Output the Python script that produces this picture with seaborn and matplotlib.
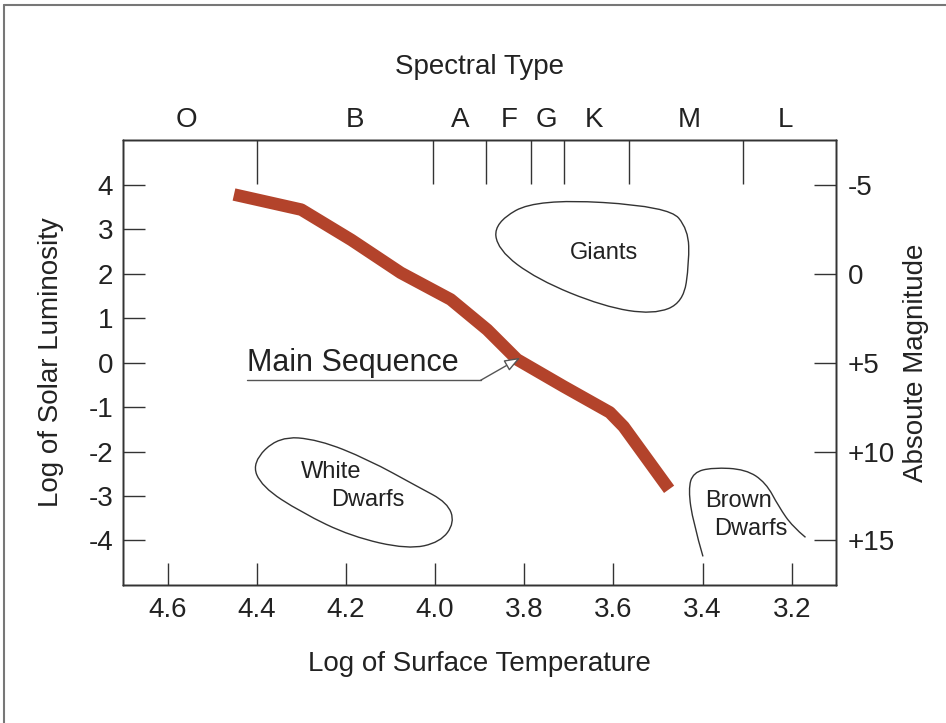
import numpy as np
import pandas as pd
import matplotlib
matplotlib.use("Agg")
import matplotlib.pyplot as plt
from matplotlib.path import Path
from matplotlib.patches import PathPatch
import seaborn as sns

sns.set_theme(style="white")
plt.rcParams['font.family'] = ['Liberation Sans', 'DejaVu Sans']

# ---- data ----
ms_logT = [4.451, 4.30, 4.188, 4.077, 3.965, 3.883, 3.816, 3.711, 3.608, 3.577, 3.475]
ms_logL = [3.78, 3.44, 2.76, 2.02, 1.42, 0.74, 0.07, -0.54, -1.12, -1.44, -2.85]

giants_logT = [3.867, 3.771, 3.475, 3.432, 3.430, 3.443, 3.510, 3.622, 3.771, 3.860]
giants_logL = [3.15, 3.69, 3.51, 2.99, 2.25, 1.35, 1.08, 1.26, 1.87, 2.54]

wd_logT = [4.351, 4.262, 4.150, 4.039, 3.972, 3.956, 3.988, 4.061, 4.188, 4.300, 4.389, 4.411]
wd_logL = [-1.66, -1.73, -2.18, -2.79, -3.15, -3.60, -4.04, -4.20, -3.91, -3.37, -2.79, -2.25]

bd_logT = [3.399, 3.421, 3.432, 3.421, 3.377, 3.303, 3.258, 3.229, 3.198, 3.169]
bd_logL = [-4.36, -3.60, -2.85, -2.47, -2.36, -2.40, -2.70, -3.24, -3.69, -3.93]

temp_ticks = [4.6, 4.4, 4.2, 4.0, 3.8, 3.6, 3.4, 3.2]
lum_ticks = [4, 3, 2, 1, 0, -1, -2, -3, -4]
mag_ticks = [4, 2, 0, -2, -4]
mag_labels = ["-5", "0", "+5", "+10", "+15"]
spec_bounds = [4.40, 4.004, 3.885, 3.784, 3.711, 3.564, 3.309]
spec_centers = [4.558, 4.179, 3.943, 3.834, 3.751, 3.644, 3.430, 3.214]
spec_labels = ["O", "B", "A", "F", "G", "K", "M", "L"]

ink = "#333333"

def smooth_path(xs, ys, closed=True):
    pts = list(zip(xs, ys))
    verts, codes = [], []
    if closed:
        n = len(pts)
        mids = [((pts[i][0] + pts[(i + 1) % n][0]) / 2, (pts[i][1] + pts[(i + 1) % n][1]) / 2) for i in range(n)]
        verts.append(mids[-1]); codes.append(Path.MOVETO)
        for i in range(n):
            verts += [pts[i], mids[i]]
            codes += [Path.CURVE3, Path.CURVE3]
    else:
        verts.append(pts[0]); codes.append(Path.MOVETO)
        for i in range(1, len(pts) - 1):
            mid = ((pts[i][0] + pts[i + 1][0]) / 2, (pts[i][1] + pts[i + 1][1]) / 2)
            if i == len(pts) - 2:
                mid = pts[-1]
            verts += [pts[i], mid]
            codes += [Path.CURVE3, Path.CURVE3]
    return Path(verts, codes)

fig = plt.figure(figsize=(9.46, 7.23), dpi=100)
fig.patch.set_facecolor("white")
ax = fig.add_axes([0.130, 0.191, 0.754, 0.615])

df = pd.DataFrame({"logT": ms_logT, "logL": ms_logL})
sns.lineplot(data=df, x="logT", y="logL", sort=False, ax=ax, color="#b3432b",
             linewidth=9, solid_joinstyle="round", solid_capstyle="butt")

for xs, ys, closed in [(giants_logT, giants_logL, True), (wd_logT, wd_logL, True),
                       (bd_logT, bd_logL, False)]:
    ax.add_patch(PathPatch(smooth_path(xs, ys, closed), facecolor="none",
                           edgecolor=ink, linewidth=1.0))

ax.set_xlim(4.7, 3.1)
ax.set_ylim(-5, 5)

fs = 20
ax.set_xticks(temp_ticks)
ax.set_xticklabels([f"{t:.1f}" for t in temp_ticks])
ax.set_yticks(lum_ticks)
ax.set_yticklabels([str(v) for v in lum_ticks])
ax.tick_params(axis="x", direction="in", length=16, width=1, color=ink, pad=9,
               labelsize=fs, labelcolor="#222222", bottom=True, top=False)
ax.tick_params(axis="y", direction="in", length=16, width=1, color=ink, pad=7,
               labelsize=fs, labelcolor="#222222", left=True, right=False)
ax.set_xlabel("Log of Surface Temperature", fontsize=fs, color="#222222", labelpad=20)
ax.set_ylabel("Log of Solar Luminosity", fontsize=fs, color="#222222", labelpad=18)
for s in ax.spines.values():
    s.set_color(ink)
    s.set_linewidth(1)

# right axis: absolute magnitude
axr = ax.twinx()
axr.set_ylim(-5, 5)
axr.set_yticks(mag_ticks)
axr.set_yticklabels(mag_labels)
axr.tick_params(axis="y", direction="in", length=16, width=1, color=ink, pad=8,
                labelsize=fs, labelcolor="#222222")
axr.set_ylabel("Absoute Magnitude", fontsize=fs, color="#222222", labelpad=6)
axr.grid(False)

# top axis: spectral type
axt = ax.twiny()
axt.set_xlim(4.7, 3.1)
axt.set_xticks(spec_bounds)
axt.set_xticklabels([""] * len(spec_bounds))
axt.set_xticks(spec_centers, minor=True)
axt.set_xticklabels(spec_labels, minor=True)
axt.tick_params(axis="x", which="major", direction="in", length=32, width=1, color=ink)
axt.tick_params(axis="x", which="minor", length=0, pad=5, labelsize=fs, labelcolor="#222222")
axt.set_xlabel("Spectral Type", fontsize=fs, color="#222222", labelpad=24)
axt.grid(False)
for a in (axr, axt):
    for s in a.spines.values():
        s.set_color(ink)
        s.set_linewidth(1)

# region labels
ax.text(3.620, 2.47, "Giants", fontsize=17, color="#222222", ha="center", va="center")
ax.text(4.233, -2.45, "White", fontsize=17, color="#222222", ha="center", va="center")
ax.text(4.150, -3.08, "Dwarfs", fontsize=17, color="#222222", ha="center", va="center")
ax.text(3.319, -3.12, "Brown", fontsize=17, color="#222222", ha="center", va="center")
ax.text(3.292, -3.75, "Dwarfs", fontsize=17, color="#222222", ha="center", va="center")

# main sequence annotation
ax.text(4.422, 0.0, "Main Sequence", fontsize=22, color="#222222", ha="left", va="center")
ax.plot([4.422, 3.898], [-0.40, -0.40], color="#555555", linewidth=1.0)
ax.annotate("", xy=(3.809, 0.11), xytext=(3.898, -0.40),
            arrowprops=dict(arrowstyle="-|>,head_length=0.8,head_width=0.3",
                            facecolor="white", edgecolor="#555555", linewidth=1.0,
                            shrinkA=0, shrinkB=0))

# outer frame (top and left visible)
fig.add_artist(plt.Line2D([4 / 946, 1.0], [1 - 5 / 723, 1 - 5 / 723], transform=fig.transFigure,
                          color="#777777", linewidth=1.5))
fig.add_artist(plt.Line2D([4 / 946, 4 / 946], [0.0, 1 - 5 / 723], transform=fig.transFigure,
                          color="#777777", linewidth=1.5))

fig.savefig("out.png", dpi=100, facecolor="white")
